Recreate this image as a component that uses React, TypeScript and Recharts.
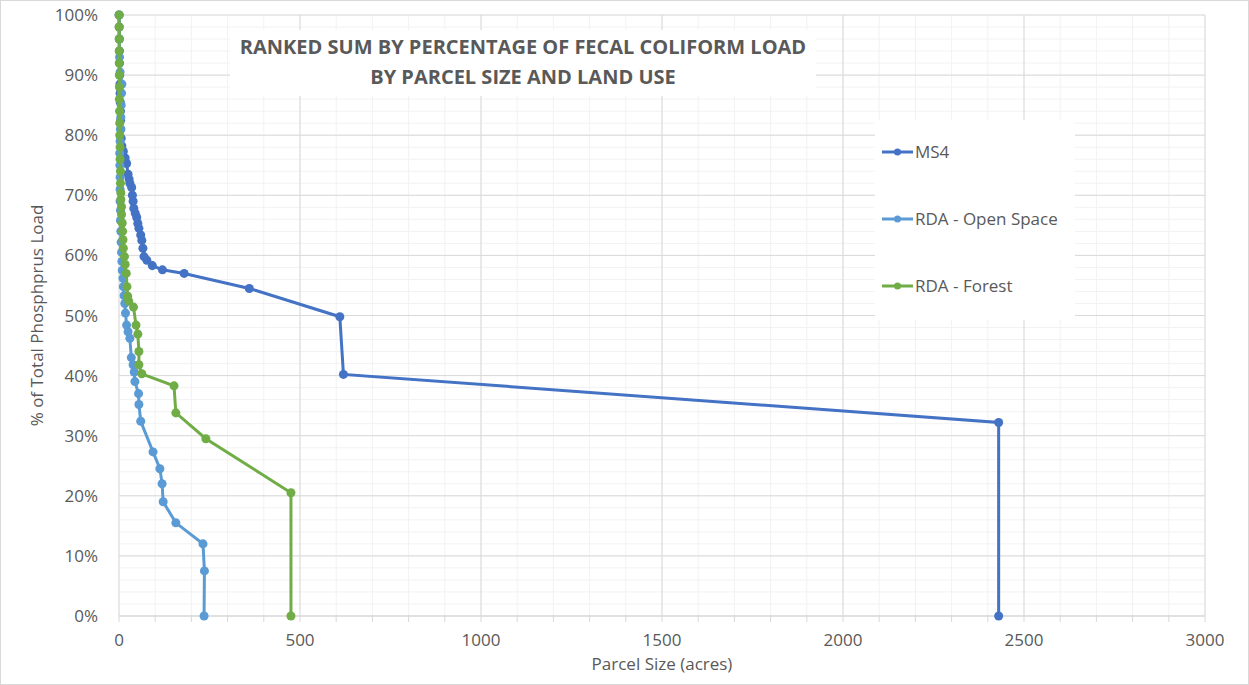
import React from 'react';
import {
  ScatterChart,
  Scatter,
  XAxis,
  YAxis,
  ZAxis,
  CartesianGrid,
  ReferenceLine
} from 'recharts';

// cumulative load (%) against parcel size (acres), bottom up
const ms4Acres = [2430, 2430, 620, 610, 360, 180, 120, 92, 77, 69, 66, 63, 60, 55, 52, 49, 45, 41, 39, 37, 35, 30, 28, 25, 21, 17, 12, 8, 6, 5, 4.5, 4, 3.5, 3, 2.5, 2, 1.5, 1.2, 1, 0.6, 0.3];
const ms4Pct = [0, 32.2, 40.2, 49.8, 54.5, 57.0, 57.6, 58.3, 59.2, 59.8, 61.2, 62.5, 63.4, 64.5, 65.3, 66.3, 67.0, 67.8, 69.0, 70.0, 71.3, 72.0, 72.7, 73.5, 75.3, 76.2, 77.3, 78.2, 79.5, 81.0, 82.5, 84.0, 85.5, 87.0, 88.5, 90.0, 92.0, 94.0, 96.0, 98.0, 100];

const openAcres = [235, 236, 232, 157, 122, 119, 113, 94, 60, 55, 54, 44, 42, 39, 34, 30, 25, 21, 18, 16, 14, 12, 11, 9, 8, 7, 6, 5, 4, 4, 3, 3, 3, 2.5, 2, 3, 4, 5, 6, 7, 8, 3, 1.5, 1, 0.5];
const openPct = [0, 7.5, 12.0, 15.5, 19.0, 22.0, 24.5, 27.3, 32.4, 35.2, 37.0, 39.0, 40.6, 41.8, 43.0, 46.2, 47.3, 48.4, 50.4, 52.0, 53.3, 54.8, 56.2, 57.5, 59.0, 60.5, 62.2, 64.0, 65.8, 67.5, 69.0, 71.0, 73.0, 75.0, 77.0, 79.0, 81.0, 83.0, 85.0, 87.0, 88.5, 90.5, 93.0, 96.0, 100];

const forestAcres = [475, 475, 240, 157, 152, 63, 55, 55, 52, 47, 40, 27, 24, 22, 20, 17, 15, 12, 11, 10, 9, 7, 7, 5, 5, 4, 4, 3, 3, 2, 2, 1.5, 1, 1, 0.8, 0.6, 0.5, 0.4, 0.3, 0.2];
const forestPct = [0, 20.5, 29.5, 33.8, 38.3, 40.3, 41.8, 44.0, 46.9, 48.4, 51.4, 52.4, 53.2, 54.8, 57.0, 58.5, 59.8, 61.2, 62.6, 64.0, 65.4, 66.8, 68.1, 69.3, 70.4, 72, 74, 76, 78, 80, 82, 84, 86, 88, 90, 92, 94, 96, 98, 100];

const xMajor = [0, 500, 1000, 1500, 2000, 2500, 3000];
const yMajor = [0, 10, 20, 30, 40, 50, 60, 70, 80, 90, 100];
const xMinor = Array.from({ length: 31 }, (_, i) => i * 100);
const yMinor = Array.from({ length: 51 }, (_, i) => i * 2);

const series = [
  { name: 'MS4', color: '#4472C4', acres: ms4Acres, pct: ms4Pct },
  { name: 'RDA - Open Space', color: '#5B9BD5', acres: openAcres, pct: openPct },
  { name: 'RDA - Forest', color: '#70AD47', acres: forestAcres, pct: forestPct }
];

const FONT = '"Open Sans", sans-serif';
const TEXT = '#595959';

const LegendBox = () => (
  <div
    style={{
      position: 'absolute',
      left: 875,
      top: 120,
      width: 200,
      height: 200,
      background: '#fff',
      fontFamily: FONT
    }}
  >
    {series.map((s, i) => (
      <div
        key={s.name}
        style={{
          position: 'absolute',
          left: 7,
          top: 20 + i * 67,
          display: 'flex',
          alignItems: 'center',
          fontSize: 17,
          color: TEXT
        }}
      >
        <svg width={31} height={10}>
          <line x1={0} y1={5} x2={31} y2={5} stroke={s.color} strokeWidth={3} />
          <circle cx={15.5} cy={5} r={3.5} fill={s.color} />
        </svg>
        <span style={{ marginLeft: 2 }}>{s.name}</span>
      </div>
    ))}
  </div>
);

export default function App() {
  return (
    <div style={{ position: 'absolute', left: 0, top: 0, width: 1249, height: 685, background: '#fff' }}>
      <div
        style={{
          position: 'absolute',
          left: 0,
          top: 0,
          width: 1247,
          height: 683,
          border: '1px solid #d9d9d9'
        }}
      />
      <ScatterChart
        width={1249}
        height={685}
        margin={{ top: 15, right: 44, bottom: 7, left: 59 }}
      >
        <CartesianGrid stroke="#f2f2f2" horizontalValues={yMinor} verticalValues={xMinor} />
        {xMajor.map((v) => (
          <ReferenceLine key={'x' + v} x={v} stroke="#d9d9d9" strokeWidth={1} />
        ))}
        {yMajor.map((v) => (
          <ReferenceLine key={'y' + v} y={v} stroke="#d9d9d9" strokeWidth={1} />
        ))}
        <XAxis
          type="number"
          dataKey="x"
          domain={[0, 3000]}
          ticks={xMinor}
          interval={0}
          tickFormatter={(v) => (xMajor.includes(v) ? String(v) : '')}
          axisLine={{ stroke: '#d9d9d9' }}
          tickLine={{ stroke: '#d9d9d9' }}
          tickSize={6}
          tickMargin={12}
          tick={{ fill: TEXT, fontSize: 17, fontFamily: FONT }}
          height={62}
          label={{
            value: 'Parcel Size (acres)',
            position: 'insideBottom',
            offset: 8,
            fill: TEXT,
            fontSize: 17,
            fontFamily: FONT
          }}
        />
        <YAxis
          type="number"
          dataKey="y"
          domain={[0, 100]}
          ticks={yMinor}
          interval={0}
          tickFormatter={(v) => (yMajor.includes(v) ? `${v}%` : '')}
          axisLine={false}
          tickLine={false}
          tickSize={6}
          tickMargin={15}
          tick={{ fill: TEXT, fontSize: 17, fontFamily: FONT }}
          width={60}
          label={{
            value: '% of Total Phosphprus Load',
            angle: -90,
            position: 'center',
            dx: -52,
            fill: TEXT,
            fontSize: 17,
            fontFamily: FONT
          }}
        />
        <ZAxis range={[50, 50]} />
        {series.map((s) => (
          <Scatter
            key={s.name}
            name={s.name}
            data={s.acres.map((x, i) => ({ x, y: s.pct[i] }))}
            fill={s.color}
            line={{ stroke: s.color, strokeWidth: 3 }}
            lineType="joint"
            isAnimationActive={false}
          />
        ))}
      </ScatterChart>
      <LegendBox />
      <div
        style={{
          position: 'absolute',
          left: 230,
          top: 30,
          width: 586,
          height: 64,
          background: '#fff',
          color: TEXT,
          fontFamily: FONT,
          fontWeight: 700,
          fontSize: 20,
          lineHeight: '30px',
          textAlign: 'center',
          paddingTop: 2
        }}
      >
        RANKED SUM BY PERCENTAGE OF FECAL COLIFORM LOAD
        <br />
        BY PARCEL SIZE AND LAND USE
      </div>
    </div>
  );
}
